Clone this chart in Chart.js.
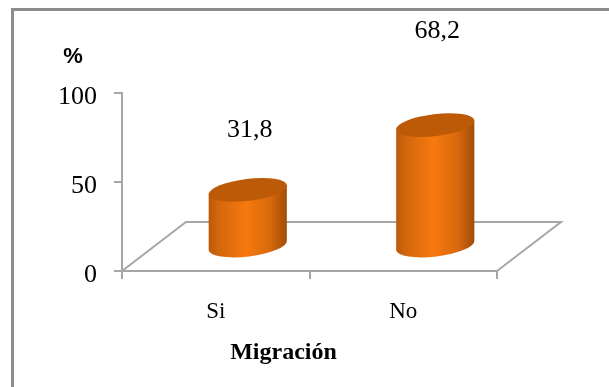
<!DOCTYPE html>
<html>
<head>
<meta charset="utf-8">
<style>
    html, body { margin: 0; padding: 0; background: #fff; overflow: hidden; }
    #frame { position: absolute; left: 11px; top: 8px; width: 598px; height: 379px;
             border-left: 3px solid #8c8c8c; border-top: 3px solid #8c8c8c; box-sizing: border-box; }
    #wrap { position: absolute; left: 0; top: 0; width: 609px; height: 387px; }
</style>
<script src="https://cdn.jsdelivr.net/npm/chart.js@4"></script>
</head>
<body>
<div id="frame"></div>
<div id="wrap"><canvas id="migrationChart" width="609" height="387"></canvas></div>
<script>
const categories = ['Si', 'No'];
const percentValues = [31.8, 68.2];
const valueLabels = ['31,8', '68,2'];
const yTicks = [0, 50, 100];

const SERIF = '"Liberation Serif", "Times New Roman", serif';
const AXIS_GRAY = '#a6a6a6';

// shift from the front edge of the floor to its back edge
const DEPTH_X = 64;
const DEPTH_Y = -49;
// how far the value labels sit from the top of each cylinder
const LABEL_LIFT = [60, 94];

function fakeFloor(chart) {
    const ctx = chart.ctx;
    const a = chart.chartArea;
    ctx.save();
    ctx.strokeStyle = AXIS_GRAY;
    ctx.lineWidth = 2;
    ctx.beginPath();
    ctx.moveTo(a.left, a.bottom);
    ctx.lineTo(a.left + DEPTH_X, a.bottom + DEPTH_Y);
    ctx.lineTo(a.right + DEPTH_X, a.bottom + DEPTH_Y);
    ctx.lineTo(a.right, a.bottom);
    ctx.stroke();
    ctx.restore();
}

function drawCylinder(ctx, cx, topY, baseY, w) {
    const rx = w / 2;
    const ry = 11;
    const tilt = -7 * Math.PI / 180;
    // ends of the tilted ellipse's long axis
    const ex = rx * Math.cos(tilt);
    const ey = rx * Math.sin(tilt);
    const side = ctx.createLinearGradient(cx - rx, 0, cx + rx, 0);
    side.addColorStop(0, '#b9590a');
    side.addColorStop(0.12, '#d2660c');
    side.addColorStop(0.48, '#f6790f');
    side.addColorStop(0.78, '#d9690c');
    side.addColorStop(1, '#a04c08');

    // body: lower half of the base ellipse joined to the top ellipse
    ctx.beginPath();
    ctx.ellipse(cx, baseY, rx, ry, tilt, 0, Math.PI);
    ctx.lineTo(cx - ex, topY - ey);
    ctx.lineTo(cx + ex, topY + ey);
    ctx.closePath();
    ctx.fillStyle = side;
    ctx.fill();

    // lid
    ctx.beginPath();
    ctx.ellipse(cx, topY, rx, ry, tilt, 0, Math.PI * 2);
    ctx.fillStyle = '#bd5a08';
    ctx.fill();
}

const cylinderPlugin = {
    id: 'cylinders',
    beforeDatasetsDraw: fakeFloor,
    afterDatasetsDraw(chart) {
        const ctx = chart.ctx;
        const bars = chart.getDatasetMeta(0).data;
        ctx.save();
        bars.forEach(function(bar, i) {
            const p = bar.getProps(['x', 'y', 'base', 'width'], true);
            // the cylinders stand in the middle of the floor
            const cx = p.x + DEPTH_X / 2;
            drawCylinder(ctx, cx, p.y + DEPTH_Y / 2, p.base + DEPTH_Y / 2, p.width);
            ctx.fillStyle = '#000';
            ctx.font = '26px ' + SERIF;
            ctx.textAlign = 'center';
            ctx.textBaseline = 'middle';
            ctx.fillText(valueLabels[i], cx + 2, p.y + DEPTH_Y / 2 - LABEL_LIFT[i]);
        });

        // axis titles
        const a = chart.chartArea;
        ctx.fillStyle = '#000';
        ctx.textAlign = 'center';
        ctx.textBaseline = 'middle';
        ctx.font = 'bold 22px "Liberation Sans", Arial, sans-serif';
        ctx.fillText('%', a.left - 49, a.top - 36);
        ctx.font = 'bold 24px ' + SERIF;
        ctx.fillText('Migración', (a.left + a.right) / 2 - 26, a.bottom + 82);
        ctx.restore();
    }
};

new Chart(document.getElementById('migrationChart'), {
    type: 'bar',
    data: {
        labels: categories,
        datasets: [{
            data: percentValues,
            backgroundColor: 'rgba(0,0,0,0)',
            categoryPercentage: 1,
            barPercentage: 0.42
        }]
    },
    plugins: [cylinderPlugin],
    options: {
        responsive: false,
        animation: false,
        layout: { padding: { top: 93, right: 112 } },
        plugins: {
            legend: { display: false },
            tooltip: { enabled: false }
        },
        scales: {
            x: {
                afterFit: function(s) { s.height = 116; },
                grid: { drawOnChartArea: false, color: AXIS_GRAY, lineWidth: 2, tickLength: 8 },
                border: { color: AXIS_GRAY, width: 2 },
                ticks: { color: '#000', padding: 19, maxRotation: 0, font: { family: SERIF, size: 23 } }
            },
            y: {
                min: 0,
                max: 100,
                afterFit: function(s) { s.width = 122; },
                afterBuildTicks: function(s) { s.ticks = yTicks.map(function(v) { return { value: v }; }); },
                grid: { drawOnChartArea: false, color: AXIS_GRAY, lineWidth: 2, tickLength: 8 },
                border: { color: AXIS_GRAY, width: 2 },
                ticks: {
                    color: '#000',
                    padding: 17,
                    // empty first line pushes the number a few px below its tick, as in the original
                    callback: function(v) { return ['', String(v)]; },
                    font: { family: SERIF, size: 26, lineHeight: 0.3 }
                }
            }
        }
    }
});
</script>
</body>
</html>
